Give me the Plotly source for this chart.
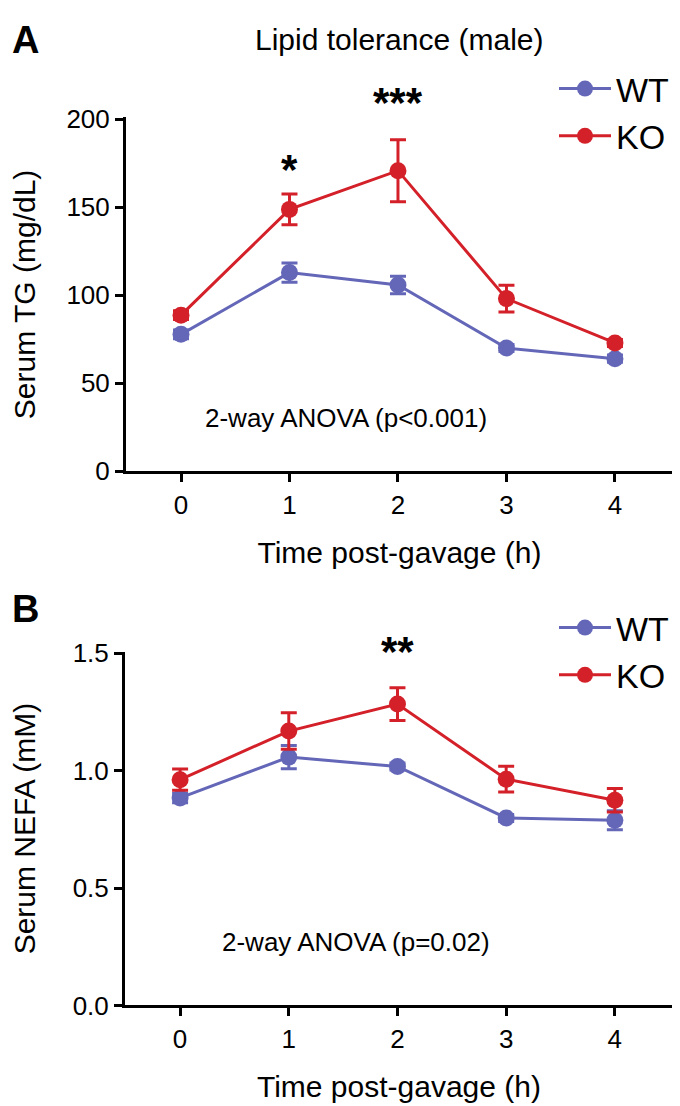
import plotly.graph_objects as go

# time points (h)
HOURS = [0, 1, 2, 3, 4]

# panel A: serum TG (mg/dL)
TG_WT = [77.8, 112.9, 105.8, 70.0, 64.0]
TG_WT_SEM = [2.5, 5.5, 5.0, 2.0, 2.0]
TG_KO = [88.7, 148.8, 170.8, 98.1, 72.9]
TG_KO_SEM = [2.5, 8.8, 17.6, 7.6, 2.0]

# panel B: serum NEFA (mM)
NEFA_WT = [0.884, 1.058, 1.018, 0.799, 0.789]
NEFA_WT_SEM = [0.02, 0.05, 0.015, 0.015, 0.04]
NEFA_KO = [0.962, 1.169, 1.284, 0.964, 0.874]
NEFA_KO_SEM = [0.045, 0.078, 0.07, 0.055, 0.05]

WT_COLOR = "#6467B8"
KO_COLOR = "#D42029"
FONT = "Liberation Sans, Arial, sans-serif"
W, H = 680, 1106


def px_x(p):
  return p / W


def px_y(p):
  return 1 - p / H


def add_series(fig, y, err, name, color, xaxis, yaxis, legend):
  fig.add_trace(
    go.Scatter(
      x=HOURS,
      y=y,
      name=name,
      mode="lines+markers",
      line=dict(color=color, width=3),
      marker=dict(color=color, size=17),
      error_y=dict(type="data", array=err, color=color, thickness=3, width=8),
      xaxis=xaxis,
      yaxis=yaxis,
      legend=legend,
    )
  )


fig = go.Figure()
add_series(fig, TG_WT, TG_WT_SEM, "WT", WT_COLOR, "x", "y", "legend")
add_series(fig, TG_KO, TG_KO_SEM, "KO", KO_COLOR, "x", "y", "legend")
add_series(fig, NEFA_WT, NEFA_WT_SEM, "WT", WT_COLOR, "x2", "y2", "legend2")
add_series(fig, NEFA_KO, NEFA_KO_SEM, "KO", KO_COLOR, "x2", "y2", "legend2")

axis_common = dict(
  showline=True,
  linecolor="black",
  linewidth=3,
  ticks="outside",
  ticklen=8,
  tickwidth=3,
  tickcolor="black",
  showgrid=False,
  zeroline=False,
  tickfont=dict(size=26, color="black"),
  title_font=dict(size=30, color="black"),
)
x_common = dict(
  axis_common,
  range=[-0.507, 4.535],
  tickvals=HOURS,
  title_text="Time post-gavage (h)",
  title_standoff=24,
)
legend_common = dict(
  xanchor="left",
  yanchor="top",
  font=dict(size=34, color="black"),
  bgcolor="rgba(0,0,0,0)",
  itemwidth=52,
  tracegroupgap=0,
)

fig.update_layout(
  width=W,
  height=H,
  paper_bgcolor="white",
  plot_bgcolor="white",
  font=dict(family=FONT, color="black"),
  margin=dict(l=0, r=0, t=0, b=0),
  xaxis=dict(x_common, domain=[px_x(118), px_x(665)], anchor="y"),
  yaxis=dict(
    axis_common,
    domain=[px_y(462), px_y(99)],
    range=[0, 201],
    tickvals=[0, 50, 100, 150, 200],
    title_text="Serum TG (mg/dL)",
    title_standoff=32,
    anchor="x",
  ),
  xaxis2=dict(x_common, domain=[px_x(117), px_x(665)], anchor="y2"),
  yaxis2=dict(
    axis_common,
    domain=[px_y(1010), px_y(647)],
    range=[0, 1.5075],
    tickvals=[0, 0.5, 1.0, 1.5],
    ticktext=["0.0", "0.5", "1.0", "1.5"],
    title_text="Serum NEFA (mM)",
    title_standoff=32,
    anchor="x2",
  ),
  legend=dict(legend_common, x=px_x(546), y=px_y(40)),
  legend2=dict(legend_common, x=px_x(546), y=px_y(593)),
)

# panel letters and title
fig.add_annotation(text="<b>A</b>", x=px_x(2), y=px_y(20), xref="paper", yref="paper",
                   xanchor="left", yanchor="middle", showarrow=False, font=dict(size=38))
fig.add_annotation(text="<b>B</b>", x=px_x(2), y=px_y(603), xref="paper", yref="paper",
                   xanchor="left", yanchor="middle", showarrow=False, font=dict(size=38))
fig.add_annotation(text="Lipid tolerance (male)", x=px_x(391), y=px_y(19), xref="paper",
                   yref="paper", xanchor="center", yanchor="middle", showarrow=False,
                   font=dict(size=30))

# stats text
fig.add_annotation(text="2-way ANOVA (p<0.001)", x=px_x(338), y=px_y(407), xref="paper",
                   yref="paper", xanchor="center", yanchor="middle", showarrow=False,
                   font=dict(size=26))
fig.add_annotation(text="2-way ANOVA (p=0.02)", x=px_x(348), y=px_y(945), xref="paper",
                   yref="paper", xanchor="center", yanchor="middle", showarrow=False,
                   font=dict(size=26))

# significance stars
star_font = dict(size=42)
fig.add_annotation(text="<b>*</b>", x=1, y=px_y(152), xref="x", yref="paper",
                   xanchor="center", yanchor="middle", showarrow=False, font=star_font)
fig.add_annotation(text="<b>***</b>", x=2, y=px_y(84), xref="x", yref="paper",
                   xanchor="center", yanchor="middle", showarrow=False, font=star_font)
fig.add_annotation(text="<b>**</b>", x=2, y=px_y(647), xref="x2", yref="paper",
                   xanchor="center", yanchor="middle", showarrow=False, font=star_font)

fig.write_html("out.html")
